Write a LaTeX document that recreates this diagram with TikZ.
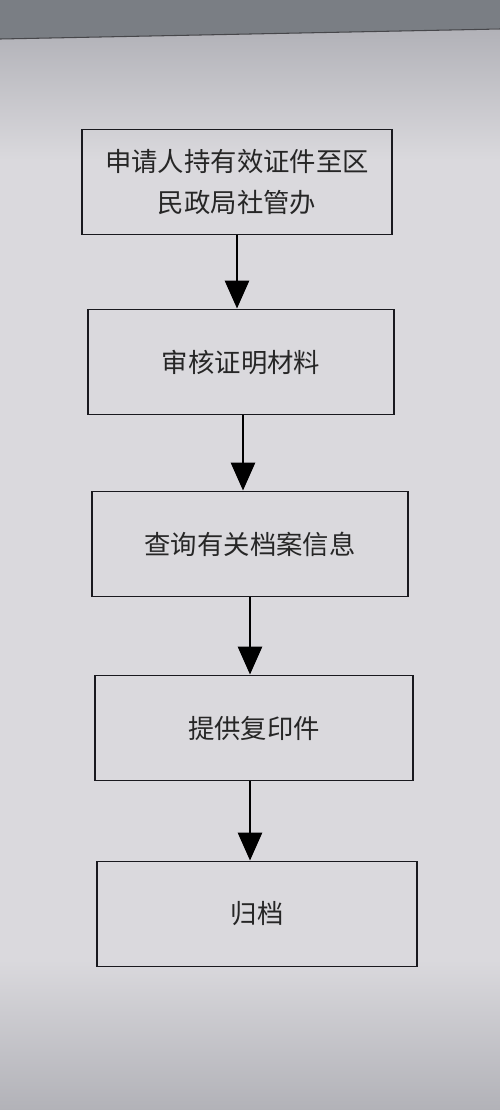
\documentclass[tikz,border=0pt]{standalone}
\usepackage{fontspec}
\newfontfamily\cjk{Noto Sans CJK SC}
\usepackage{xcolor}
\usepackage{tikz}
\usetikzlibrary{arrows.meta,positioning,calc}

\definecolor{screenbg}{RGB}{218,217,221}
\definecolor{screenedge}{RGB}{178,178,184}
\definecolor{bezel}{RGB}{122,126,132}
\definecolor{inkline}{RGB}{25,25,30}

\begin{document}
\begin{tikzpicture}[
    x=0.02cm, y=-0.02cm,
    stepbox/.style={rectangle, draw=inkline, line width=1.1pt, minimum height=2.1cm, align=center, font=\cjk\fontsize{15}{23}\selectfont, text=black!85},
    arrow/.style={-{Triangle[length=0.56cm,width=0.48cm]}, line width=1.7pt, color=black}
]

% background of the photo
\useasboundingbox (0,0) rectangle (500,1110);
\fill[screenbg] (0,0) rectangle (500,1110);
\shade[top color=screenedge, bottom color=screenbg] (0,30) rectangle (500,160);
\shade[top color=screenbg, bottom color=screenedge] (0,960) rectangle (500,1110);
\fill[bezel] (0,0) -- (500,0) -- (500,29) -- (0,39) -- cycle;
\draw[inkline!80, line width=0.6pt] (0,39) -- (500,29);

\node[stepbox, minimum width=6.2cm] (apply) at (237,182) {申请人持有效证件至区\\民政局社管办};
\node[stepbox, minimum width=6.12cm] (review) at (241,362) {审核证明材料};
\node[stepbox, minimum width=6.32cm] (query) at (250,544) {查询有关档案信息};
\node[stepbox, minimum width=6.36cm] (copy) at (254,728) {提供复印件};
\node[stepbox, minimum width=6.4cm] (archive) at (257,914) {归档};

\coordinate (reviewout) at ($(review.south)+(2,0)$);
\coordinate (copyout) at ($(copy.south)+(-4,0)$);

\draw[arrow] (apply.south) -- (apply.south |- review.north);
\draw[arrow] (reviewout) -- (reviewout |- query.north);
\draw[arrow] (query.south) -- (query.south |- copy.north);
\draw[arrow] (copyout) -- (copyout |- archive.north);

\end{tikzpicture}
\end{document}
